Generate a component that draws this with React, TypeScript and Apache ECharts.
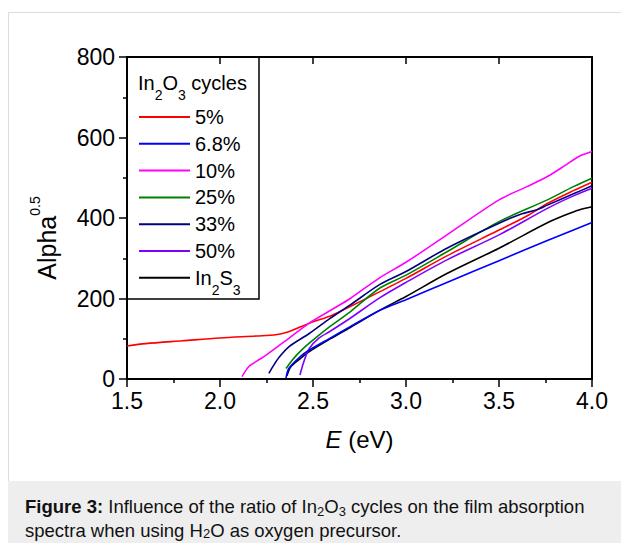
import React, { useEffect, useRef } from "react";
import * as echarts from "echarts";

// ---- data ----
const energyTicks = [1.5, 2.0, 2.5, 3.0, 3.5, 4.0];
const alphaTicks = [0, 200, 400, 600, 800];
const legendNames = ["5%", "6.8%", "10%", "25%", "33%", "50%", "In2S3"];
const seriesColors = ["#ff0000", "#0000ff", "#ff00ff", "#008000", "#000080", "#8000ff", "#000000"];

const cycles5: [number, number][] = [
  [1.5, 82], [1.6, 88], [1.8, 95], [2.0, 102], [2.2, 107], [2.3, 110], [2.36, 116], [2.43, 129],
  [2.5, 142], [2.6, 158], [2.7, 180], [2.86, 217], [3.0, 250], [3.22, 306], [3.5, 370],
  [3.65, 405], [3.76, 436], [3.9, 468], [4.0, 489],
];
const cycles6p8: [number, number][] = [
  [2.355, 2], [2.37, 26], [2.43, 55], [2.48, 72], [2.59, 101], [2.7, 130], [2.86, 171],
  [3.0, 197], [3.22, 240], [3.5, 294], [3.76, 344], [4.0, 389],
];
const cycles10: [number, number][] = [
  [2.118, 6], [2.14, 22], [2.16, 33], [2.2, 45], [2.25, 60], [2.37, 101], [2.48, 139],
  [2.6, 172], [2.7, 200], [2.86, 252], [3.0, 290], [3.22, 358], [3.5, 445], [3.65, 478],
  [3.76, 503], [3.86, 532], [3.93, 553], [4.0, 565],
];
const cycles25: [number, number][] = [
  [2.355, 26], [2.39, 48], [2.43, 68], [2.48, 89], [2.59, 130], [2.7, 167], [2.86, 226],
  [3.0, 258], [3.22, 316], [3.5, 391], [3.76, 445], [3.9, 478], [4.0, 499],
];
const cycles33: [number, number][] = [
  [2.263, 14], [2.29, 35], [2.32, 55], [2.37, 80], [2.48, 113], [2.59, 150], [2.7, 184],
  [2.86, 235], [3.0, 267], [3.22, 325], [3.5, 387], [3.62, 410], [3.7, 420], [3.76, 432],
  [3.9, 460], [4.0, 480],
];
const cycles50: [number, number][] = [
  [2.43, 10], [2.445, 35], [2.46, 55], [2.48, 76], [2.53, 101], [2.59, 118], [2.7, 151],
  [2.86, 202], [3.0, 240], [3.22, 296], [3.5, 358], [3.76, 424], [3.9, 455], [4.0, 474],
];
const in2s3: [number, number][] = [
  [2.36, 8], [2.38, 30], [2.43, 50], [2.48, 68], [2.59, 99], [2.7, 128], [2.86, 171],
  [3.0, 205], [3.22, 262], [3.5, 325], [3.76, 388], [3.86, 408], [3.93, 420], [4.0, 428],
];
const seriesData = [cycles5, cycles6p8, cycles10, cycles25, cycles33, cycles50, in2s3];
// draw order (later on top)
const drawOrder = [6, 0, 2, 3, 4, 5, 1];

const FONT = "'Liberation Sans', Arial, Helvetica, sans-serif";

export default function App() {
  const ref = useRef<HTMLDivElement>(null);
  useEffect(() => {
    if (!ref.current) return;
    const chart = echarts.init(ref.current, undefined, { renderer: "svg" });
    const gl = 127, gt = 57, gr = 592, gb = 379;
    const option: any = {
      animation: false,
      textStyle: { fontFamily: FONT },
      grid: { left: gl, top: gt, width: gr - gl, height: gb - gt, containLabel: false },
      legend: {
        data: legendNames,
        orient: "vertical",
        left: gl,
        top: gt,
        padding: [50, 0, 0, 11],
        itemWidth: 51,
        itemHeight: 20,
        itemGap: 6.8,
        selectedMode: false,
        itemStyle: { opacity: 0 },
        formatter: (name: string) =>
          name === "In2S3" ? "{m|In}{s|2}{m|S}{s|3}" : "{n|" + name + "}",
        textStyle: {
          color: "#000",
          fontSize: 20,
          fontFamily: FONT,
          rich: {
            n: { fontSize: 20, lineHeight: 20, color: "#000", fontFamily: FONT },
            m: { fontSize: 20, lineHeight: 38, color: "#000", fontFamily: FONT },
            s: { fontSize: 14, lineHeight: 13, verticalAlign: "bottom", color: "#000", fontFamily: FONT },
          },
        },
      },
      xAxis: [
        {
          type: "value",
          min: energyTicks[0],
          max: energyTicks[energyTicks.length - 1],
          interval: 0.5,
          position: "bottom",
          name: "{i|E} (eV)",
          nameLocation: "middle",
          nameGap: 48,
          nameTextStyle: {
            fontSize: 24,
            color: "#000",
            fontFamily: FONT,
            rich: { i: { fontSize: 24, fontStyle: "italic", color: "#000", fontFamily: FONT } },
          },
          axisLine: { show: true, onZero: false, lineStyle: { color: "#000", width: 2 } },
          axisTick: { show: true, inside: false, length: 8, lineStyle: { color: "#000", width: 1.5 } },
          minorTick: { show: true, splitNumber: 2, length: 4, lineStyle: { color: "#000", width: 1.5 } },
          axisLabel: {
            fontSize: 23,
            color: "#000",
            margin: 10,
            fontFamily: FONT,
            formatter: (v: number) => v.toFixed(1),
          },
          splitLine: { show: false },
        },
        {
          type: "value",
          min: energyTicks[0],
          max: energyTicks[energyTicks.length - 1],
          interval: 0.5,
          position: "top",
          axisLine: { show: true, onZero: false, lineStyle: { color: "#000", width: 2 } },
          axisTick: { show: true, inside: true, length: 7, lineStyle: { color: "#000", width: 1.5 } },
          axisLabel: { show: false },
          splitLine: { show: false },
        },
      ],
      yAxis: [
        {
          type: "value",
          min: alphaTicks[0],
          max: alphaTicks[alphaTicks.length - 1],
          interval: 200,
          position: "left",
          name: "{a|Alpha}{p|0.5}",
          nameLocation: "middle",
          nameGap: 62,
          nameRotate: 90,
          nameTextStyle: {
            color: "#000",
            fontFamily: FONT,
            padding: [0, 40, 0, 0],
            rich: {
              a: { fontSize: 25, lineHeight: 37, color: "#000", fontFamily: FONT },
              p: { fontSize: 14, lineHeight: 13, verticalAlign: "top", color: "#000", fontFamily: FONT },
            },
          },
          axisLine: { show: true, onZero: false, lineStyle: { color: "#000", width: 2 } },
          axisTick: { show: true, inside: false, length: 8, lineStyle: { color: "#000", width: 1.5 } },
          minorTick: { show: true, splitNumber: 2, length: 4, lineStyle: { color: "#000", width: 1.5 } },
          axisLabel: { fontSize: 23, color: "#000", margin: 12, fontFamily: FONT },
          splitLine: { show: false },
        },
        {
          type: "value",
          min: alphaTicks[0],
          max: alphaTicks[alphaTicks.length - 1],
          interval: 200,
          position: "right",
          axisLine: { show: true, onZero: false, lineStyle: { color: "#000", width: 2 } },
          axisTick: { show: false },
          axisLabel: { show: false },
          splitLine: { show: false },
        },
      ],
      series: drawOrder.map((i) => ({
        type: "line",
        name: legendNames[i],
        data: seriesData[i],
        xAxisIndex: 0,
        yAxisIndex: 0,
        symbol: "none",
        smooth: 0.3,
        lineStyle: { color: seriesColors[i], width: 1.6 },
        itemStyle: { color: seriesColors[i] },
        z: 2,
      })),
      graphic: [
        { type: "line", shape: { x1: 8.5, y1: 12.5, x2: 621, y2: 12.5 }, style: { stroke: "#dcdcdc", lineWidth: 1 }, silent: true },
        { type: "line", shape: { x1: 8.5, y1: 12.5, x2: 8.5, y2: 481 }, style: { stroke: "#dcdcdc", lineWidth: 1 }, silent: true },
        { type: "rect", shape: { x: 8, y: 481, width: 613, height: 62 }, style: { fill: "#eeeeee" }, silent: true },
        {
          type: "rect",
          shape: { x: gl, y: gt, width: 132, height: 242 },
          style: { fill: "none", stroke: "#000", lineWidth: 1.5 },
          z: 10,
          silent: true,
        },
        {
          type: "text",
          x: 138,
          y: 83,
          z: 10,
          style: {
            text: "{n|In}{s|2}{n|O}{s|3}{n| cycles}",
            verticalAlign: "middle",
            align: "left",
            fill: "#000",
            font: "20px " + FONT,
            rich: {
              n: { fontSize: 20, lineHeight: 38, fill: "#000", fontFamily: FONT },
              s: { fontSize: 14, lineHeight: 13, verticalAlign: "bottom", fill: "#000", fontFamily: FONT },
            },
          },
          silent: true,
        },
        {
          type: "text",
          x: 25,
          y: 506,
          style: {
            text: "{b|Figure 3:} Influence of the ratio of In{s|2}O{s|3} cycles on the film absorption",
            verticalAlign: "middle",
            align: "left",
            fill: "#111",
            font: "18.5px " + FONT,
            rich: {
              b: { fontSize: 18.5, fontWeight: "bold", lineHeight: 24, fill: "#111", fontFamily: FONT },
              s: { fontSize: 13, lineHeight: 12, verticalAlign: "bottom", fill: "#111", fontFamily: FONT },
            },
          },
          silent: true,
        },
        {
          type: "text",
          x: 25,
          y: 530,
          style: {
            text: "spectra when using H{s|2}O as oxygen precursor.",
            verticalAlign: "middle",
            align: "left",
            fill: "#111",
            font: "18.5px " + FONT,
            rich: {
              s: { fontSize: 13, lineHeight: 12, verticalAlign: "bottom", fill: "#111", fontFamily: FONT },
            },
          },
          silent: true,
        },
      ],
    };
    chart.setOption(option);
    return () => chart.dispose();
  }, []);
  return (
    <div
      ref={ref}
      style={{ position: "absolute", left: 0, top: 0, width: 621, height: 543, background: "#fff" }}
    />
  );
}
